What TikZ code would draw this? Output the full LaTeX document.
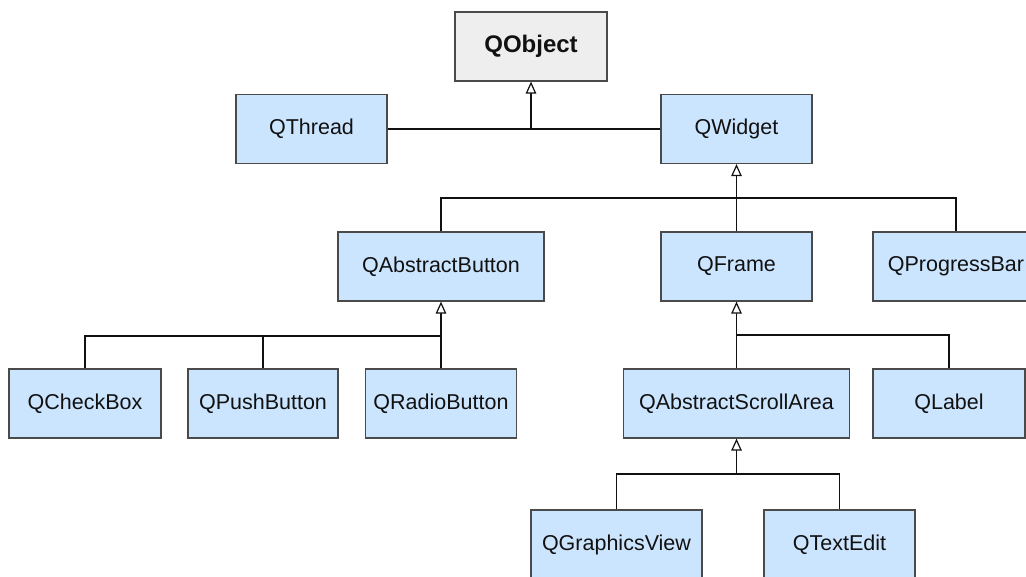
\documentclass[tikz,border=0pt]{standalone}
\usepackage{fontspec}
\setmainfont{Liberation Sans}
\usetikzlibrary{arrows.meta}
\definecolor{boxfill}{HTML}{CCE5FF}
\definecolor{boxline}{HTML}{4A4A4A}
\definecolor{rootfill}{HTML}{EEEEEE}
\definecolor{ink}{HTML}{111111}
\begin{document}
\begin{tikzpicture}[x=1pt,y=-1pt,
  cls/.style={draw=boxline, fill=boxfill, line width=1.2pt, minimum height=69pt,
    inner sep=0pt, text=ink, font=\fontsize{21.5}{24}\selectfont},
  root/.style={cls, fill=rootfill, font=\fontsize{24}{28}\selectfont\bfseries},
  link/.style={line width=1.2pt, draw=ink},
  inherit/.style={link, -{Triangle[open, length=12pt, width=10.5pt, fill=white]}}]
\useasboundingbox (0,0) rectangle (1026,576);
\fill[white] (0,0) rectangle (1026,576);
\clip (0,0) rectangle (1026,576);

% class boxes
\node[root, minimum width=152pt] (object) at (531,46.5) {QObject};
\node[cls, minimum width=151pt] (thread) at (311.5,129) {QThread};
\node[cls, minimum width=151pt] (widget) at (736.5,129) {QWidget};

\node[cls, minimum width=206pt] (abutton) at (441,266.5) {QAbstractButton};
\node[cls, minimum width=151pt] (frame) at (736.5,266.5) {QFrame};
\node[cls, minimum width=166pt] (pbar) at (956,266.5) {QProgressBar};

\node[cls, minimum width=152pt] (checkbox) at (85,403.5) {QCheckBox};
\node[cls, minimum width=150pt] (push) at (263,403.5) {QPushButton};
\node[cls, minimum width=151pt] (radio) at (441,403.5) {QRadioButton};
\node[cls, minimum width=226pt] (scroll) at (736.5,403.5) {QAbstractScrollArea};
\node[cls, minimum width=152pt] (label) at (949,403.5) {QLabel};

\node[cls, minimum width=171pt] (gview) at (616.5,544.5) {QGraphicsView};
\node[cls, minimum width=151pt] (tedit) at (839.5,544.5) {QTextEdit};

% junction levels of the inheritance trees
\coordinate (jw) at (0,198);
\coordinate (jb) at (0,336);
\coordinate (jf) at (0,335);
\coordinate (js) at (0,474);

% QObject subclasses
\draw[link] (thread.east) -- (widget.west);
\draw[inherit] (object.south |- thread.east) -- (object.south);

% QWidget subclasses
\draw[link] (abutton.north) -- (abutton.north |- jw) -- (pbar.north |- jw) -- (pbar.north);
\draw[inherit] (frame.north) -- (widget.south);

% QAbstractButton subclasses
\draw[link] (checkbox.north) -- (checkbox.north |- jb) -- (radio.north |- jb);
\draw[link] (push.north) -- (push.north |- jb);
\draw[inherit] (radio.north) -- (abutton.south);

% QFrame subclasses
\draw[link] (label.north) -- (label.north |- jf) -- (scroll.north |- jf);
\draw[inherit] (scroll.north) -- (frame.south);

% QAbstractScrollArea subclasses
\draw[link] (gview.north) -- (gview.north |- js) -- (tedit.north |- js) -- (tedit.north);
\draw[inherit] (scroll.south |- js) -- (scroll.south);
\end{tikzpicture}
\end{document}
